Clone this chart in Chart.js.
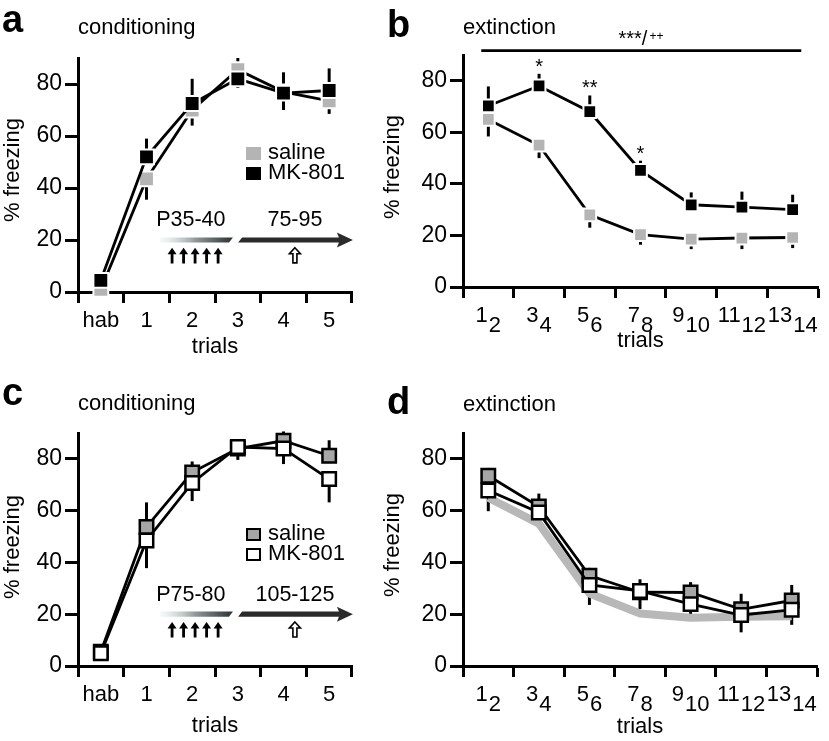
<!DOCTYPE html>
<html lang="en">
<head>
<meta charset="UTF-8" />
<title>Freezing during conditioning and extinction</title>
<script src="https://cdn.jsdelivr.net/npm/chart.js@4.4.1/dist/chart.umd.min.js"></script>
<style>
  body { margin: 0; background: #fff; }
  #fig { position: relative; width: 829px; height: 741px; }
  #fig canvas { position: absolute; }
</style>
</head>
<body>
<div id="fig">
  <canvas id="panelA" width="380" height="370" style="left:0;top:0"></canvas>
  <canvas id="panelB" width="449" height="370" style="left:380px;top:0"></canvas>
  <canvas id="panelC" width="380" height="371" style="left:0;top:370px"></canvas>
  <canvas id="panelD" width="449" height="371" style="left:380px;top:370px"></canvas>
</div>
<script>
// values: % freezing (mean) and SEM
const condTrials = ['hab', '1', '2', '3', '4', '5'];
const extTrials = [['1', '2'], ['3', '4'], ['5', '6'], ['7', '8'], ['9', '10'], ['11', '12'], ['13', '14']];

// a: treated P35-40, tested P75-95
const juvSalineCond = [1, 43.5, 70, 85.5, 77, 73.5];
const juvSalineCondSem = [1, 8, 6, 7, 7, 5];
const juvMkCond = [4.5, 52, 72.5, 82, 76.5, 77.5];
const juvMkCondSem = [2, 7, 9.5, 8, 8, 8.5];

// b
const juvSalineExt = [65, 55, 28, 20.3, 18.6, 19, 19.2];
const juvSalineExtSem = [6.6, 5, 5, 3.9, 3.9, 4.3, 4.1];
const juvMkExt = [70.3, 78, 68, 45.2, 31.9, 31, 30];
const juvMkExtSem = [7.5, 4.7, 6.3, 3.8, 4.8, 6, 5.8];
const extStars = ['', '*', '**', '*', '', '', ''];

// c: treated P75-80, tested P105-125
const adSalineCond = [5.5, 53.7, 74.8, 84, 87, 81.2];
const adSalineCondSem = [2, 9.5, 4.2, 2, 3.6, 6];
const adMkCond = [4.9, 48.5, 70.7, 84.6, 84, 72.2];
const adMkCondSem = [2, 10.7, 7, 5, 6, 9];

// d
const adSalineExt = [73.5, 61.6, 34.9, 28.5, 28.4, 21.9, 25.3];
const adSalineExtSem = [3, 5, 3, 5, 4, 6, 6];
const adMkExt = [67.8, 59.3, 31.3, 29, 23.9, 19.7, 21.7];
const adMkExtSem = [8, 6, 7.7, 7, 5.5, 6.7, 5.8];

const FONT = '"Liberation Sans", Arial, Helvetica, sans-serif';
Chart.defaults.font.family = FONT;
Chart.defaults.color = '#000';

function txt(ctx, s, x, y, size, o = {}) {
  ctx.save();
  ctx.font = (o.bold ? 'bold ' : '') + size + 'px ' + FONT;
  ctx.fillStyle = '#000';
  ctx.textAlign = o.align || 'left';
  ctx.textBaseline = o.baseline || 'alphabetic';
  if (o.rotate) { ctx.translate(x, y); ctx.rotate(o.rotate); ctx.fillText(s, 0, 0); }
  else ctx.fillText(s, x, y);
  ctx.restore();
}

// vertical SEM lines, one direction per group like in the original
const errorBars = {
  id: 'errorBars',
  beforeDatasetsDraw(chart) {
    const ctx = chart.ctx, ys = chart.scales.y;
    chart.data.datasets.forEach((ds, i) => {
      if (!ds.sem) return;
      const meta = chart.getDatasetMeta(i);
      ctx.save();
      ctx.strokeStyle = '#000';
      ctx.lineWidth = 3;
      meta.data.forEach((pt, j) => {
        const v = ds.data[j], e = ds.sem[j];
        const hi = ds.semDir === 'down' ? v : v + e;
        const lo = ds.semDir === 'up' ? v : v - e;
        ctx.beginPath();
        ctx.moveTo(pt.x, ys.getPixelForValue(hi));
        ctx.lineTo(pt.x, ys.getPixelForValue(lo));
        ctx.stroke();
      });
      ctx.restore();
    });
  }
};

function frame(p) {
  return {
    id: 'frame',
    afterDraw(chart) {
      const ctx = chart.ctx, a = chart.chartArea;
      txt(ctx, p.letter, p.letterAt[0], p.letterAt[1], 38, { bold: true });
      txt(ctx, p.title, a.left, p.titleBase, 22);
      txt(ctx, '% freezing', 13, p.yTitleY, 22, { align: 'center', baseline: 'middle', rotate: -Math.PI / 2 });
      txt(ctx, 'trials', (a.left + a.right) / 2, p.trialsBase, 22, { align: 'center' });
      if (p.extra) p.extra(chart);
    }
  };
}

function pairLabels(chart) {
  const ctx = chart.ctx, xs = chart.scales.x, base = chart.chartArea.bottom;
  ctx.save();
  ctx.font = '22px ' + FONT;
  extTrials.forEach((pair, i) => {
    const cx = xs.getPixelForValue(i);
    const w1 = ctx.measureText(pair[0]).width, w2 = ctx.measureText(pair[1]).width;
    const x0 = cx - (w1 + w2 + 1) / 2;
    txt(ctx, pair[0], x0, base + 34.5, 22);
    txt(ctx, pair[1], x0 + w1 + 1, base + 44.5, 22);
  });
  ctx.restore();
}

function legend(chart, top, items) {
  const ctx = chart.ctx;
  items.forEach((it, i) => {
    const y = top + i * 20;
    ctx.save();
    ctx.fillStyle = it.fill;
    ctx.fillRect(246, y, 15, 13);
    if (it.stroke) {
      ctx.strokeStyle = it.stroke; ctx.lineWidth = 2;
      ctx.strokeRect(247, y + 1, 13, 11);
    }
    ctx.restore();
    txt(ctx, it.label, 268, y + 11.5, 22);
  });
}

function upArrow(ctx, x, yTip, yEnd, open) {
  ctx.save();
  ctx.beginPath();
  if (open) {
    ctx.moveTo(x, yTip);
    ctx.lineTo(x + 5.5, yTip + 6);
    ctx.lineTo(x + 2, yTip + 6);
    ctx.lineTo(x + 2, yEnd);
    ctx.lineTo(x - 2, yEnd);
    ctx.lineTo(x - 2, yTip + 6);
    ctx.lineTo(x - 5.5, yTip + 6);
    ctx.closePath();
    ctx.fillStyle = '#fff'; ctx.fill();
    ctx.strokeStyle = '#000'; ctx.lineWidth = 1.6; ctx.stroke();
  } else {
    ctx.moveTo(x, yTip);
    ctx.lineTo(x + 4.5, yTip + 6.5);
    ctx.lineTo(x + 1.4, yTip + 6.5);
    ctx.lineTo(x + 1.4, yEnd);
    ctx.lineTo(x - 1.4, yEnd);
    ctx.lineTo(x - 1.4, yTip + 6.5);
    ctx.lineTo(x - 4.5, yTip + 6.5);
    ctx.closePath();
    ctx.fillStyle = '#000'; ctx.fill();
  }
  ctx.restore();
}

// treatment window and later testing, placed in axis units
function timeline(chart, treat, test) {
  const ctx = chart.ctx, xs = chart.scales.x, ys = chart.scales.y;
  const X = v => xs.getPixelForValue(v), Y = v => ys.getPixelForValue(v);
  const yb = Y(20), h = 2.6;
  const x0 = X(1.3), x1 = X(2.85), x2 = X(3.05), x3 = X(5.52);
  ctx.save();
  const g = ctx.createLinearGradient(x0, 0, x1, 0);
  g.addColorStop(0, 'rgba(225,235,235,0.3)');
  g.addColorStop(0.5, '#8e9799');
  g.addColorStop(1, '#30363a');
  ctx.fillStyle = g;
  ctx.beginPath();
  ctx.moveTo(x0, yb - h); ctx.lineTo(x1 + 2, yb - h); ctx.lineTo(x1 - 2, yb + h); ctx.lineTo(x0, yb + h);
  ctx.closePath(); ctx.fill();
  ctx.fillStyle = '#2b2b2b';
  ctx.beginPath();
  ctx.moveTo(x2 + 2, yb - h); ctx.lineTo(x3 - 14, yb - h); ctx.lineTo(x3 - 16, yb - 7.5);
  ctx.lineTo(x3, yb); ctx.lineTo(x3 - 16, yb + 7.5); ctx.lineTo(x3 - 14, yb + h);
  ctx.lineTo(x2 - 2, yb + h);
  ctx.closePath(); ctx.fill();
  ctx.restore();
  txt(ctx, treat, X(1.97), Y(25.3), 21.5, { align: 'center' });
  txt(ctx, test, X(4.25), Y(25.3), 21.5, { align: 'center' });
  for (let k = 0; k < 5; k++) upArrow(ctx, X(1.56 + k * 0.252), Y(17), Y(11), false);
  upArrow(ctx, X(4.25), Y(17), Y(11.2), true);
}

function significance(chart) {
  const ctx = chart.ctx, xs = chart.scales.x, ys = chart.scales.y, a = chart.chartArea;
  ctx.save();
  ctx.strokeStyle = '#000'; ctx.lineWidth = 2.6;
  ctx.beginPath();
  ctx.moveTo(xs.getPixelForValue(-0.14), ys.getPixelForValue(91.7));
  ctx.lineTo(xs.getPixelForValue(6.17), ys.getPixelForValue(91.7));
  ctx.stroke();
  ctx.restore();
  const cx = (a.left + a.right) / 2;
  txt(ctx, '***/', cx - 22, 45, 20);
  txt(ctx, '++', cx + 9, 39.5, 12);
  extStars.forEach((s, i) => {
    if (!s) return;
    const top = ys.getPixelForValue(juvMkExt[i] + juvMkExtSem[i]);
    txt(ctx, s, xs.getPixelForValue(i), top - 1, 20, { align: 'center' });
  });
}

function series(label, data, sem, semDir, style) {
  return Object.assign({
    label, data, sem, semDir,
    borderColor: '#000', borderWidth: 2.8, pointStyle: 'rect', tension: 0, clip: false
  }, style);
}

function makeChart(p, labels, datasets, showXTicks) {
  return new Chart(document.getElementById(p.canvas), {
    type: 'line',
    data: { labels, datasets },
    options: {
      responsive: false,
      animation: false,
      events: [],
      layout: { padding: { left: 0, top: p.area.top, right: p.w - p.area.right, bottom: 0 } },
      plugins: { legend: { display: false }, tooltip: { enabled: false } },
      scales: {
        x: {
          offset: true,
          grid: { offset: true, drawOnChartArea: false, tickLength: 11, tickWidth: 3, tickColor: '#000' },
          border: { color: '#000', width: 3 },
          ticks: { display: showXTicks, font: { size: 22 }, color: '#000', padding: 5, maxRotation: 0, autoSkip: false },
          afterFit: s => { s.height = p.h - p.area.bottom; }
        },
        y: {
          min: 0, max: 90,
          grid: { drawOnChartArea: false, tickLength: 13, tickWidth: 3, tickColor: '#000' },
          border: { color: '#000', width: 3 },
          ticks: { stepSize: 20, includeBounds: false, font: { size: 23 }, color: '#000', padding: 3 },
          afterFit: s => { s.width = p.area.left; }
        }
      }
    },
    plugins: [errorBars, frame(p)]
  });
}

const juvGray = '#b4b4b4';
const adGray = '#a6a6a6';
const solidA = { pointRadius: 10.5, pointBorderColor: '#fff', pointBorderWidth: 2 };
const solidB = { pointRadius: 9, pointBorderColor: '#fff', pointBorderWidth: 2 };
const framed = { pointRadius: 9.5, pointBorderColor: '#000', pointBorderWidth: 2.5 };

makeChart(
  { canvas: 'panelA', w: 380, h: 370, area: { left: 78, top: 58, right: 352, bottom: 292 },
    letter: 'a', letterAt: [2, 32], title: 'conditioning', titleBase: 34, yTitleY: 170, trialsBase: 353,
    extra: chart => {
      legend(chart, 147, [{ label: 'saline', fill: juvGray }, { label: 'MK-801', fill: '#000' }]);
      timeline(chart, 'P35-40', '75-95');
    } },
  condTrials,
  [
    series('MK-801', juvMkCond, juvMkCondSem, 'up', Object.assign({ pointBackgroundColor: '#000' }, solidA)),
    series('saline', juvSalineCond, juvSalineCondSem, 'down', Object.assign({ pointBackgroundColor: juvGray }, solidA))
  ],
  true
);

makeChart(
  { canvas: 'panelB', w: 449, h: 370, area: { left: 83, top: 55, right: 448, bottom: 287 },
    letter: 'b', letterAt: [7, 37], title: 'extinction', titleBase: 34, yTitleY: 167, trialsBase: 347,
    extra: chart => { pairLabels(chart); significance(chart); } },
  extTrials.map(t => t.join('-')),
  [
    series('MK-801', juvMkExt, juvMkExtSem, 'up', Object.assign({ pointBackgroundColor: '#000' }, solidB)),
    series('saline', juvSalineExt, juvSalineExtSem, 'down', Object.assign({ pointBackgroundColor: juvGray }, solidB))
  ],
  false
);

makeChart(
  { canvas: 'panelC', w: 380, h: 371, area: { left: 78, top: 63, right: 352, bottom: 296 },
    letter: 'c', letterAt: [2, 35], title: 'conditioning', titleBase: 40, yTitleY: 177, trialsBase: 362,
    extra: chart => {
      legend(chart, 158, [{ label: 'saline', fill: adGray, stroke: '#000' }, { label: 'MK-801', fill: '#fff', stroke: '#000' }]);
      timeline(chart, 'P75-80', '105-125');
    } },
  condTrials,
  [
    series('MK-801', adMkCond, adMkCondSem, 'down', Object.assign({ pointBackgroundColor: '#fff' }, framed)),
    series('saline', adSalineCond, adSalineCondSem, 'up', Object.assign({ pointBackgroundColor: adGray }, framed))
  ],
  true
);

makeChart(
  { canvas: 'panelD', w: 449, h: 371, area: { left: 83, top: 63, right: 448, bottom: 296 },
    letter: 'd', letterAt: [7, 44], title: 'extinction', titleBase: 41, yTitleY: 175, trialsBase: 363,
    extra: chart => pairLabels(chart) },
  extTrials.map(t => t.join('-')),
  [
    series('MK-801', adMkExt, adMkExtSem, 'down', Object.assign({ pointBackgroundColor: '#fff' }, framed)),
    series('saline', adSalineExt, adSalineExtSem, 'up', Object.assign({ pointBackgroundColor: adGray }, framed)),
    // young saline curve from b, shown as a wide grey band for comparison
    { label: 'saline P35-40', data: juvSalineExt, borderColor: '#b8b8b8', borderWidth: 8, pointRadius: 0, tension: 0, borderJoinStyle: 'round' }
  ],
  false
);
</script>
</body>
</html>
